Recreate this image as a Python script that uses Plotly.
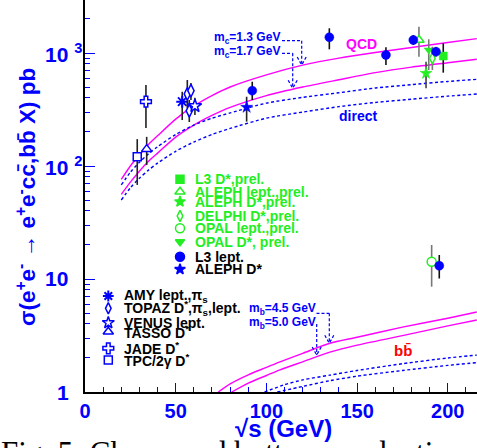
import math
import plotly.graph_objects as go

# ---------------- data ----------------
# charm theory curves (sqrt(s) in GeV, sigma in pb)
S_C = [20, 25, 30, 35, 40, 50, 60, 70, 80, 100, 120, 140, 160, 180, 200, 216]
QCD_C13 = [76, 100, 125, 155, 185, 260, 340, 420, 500, 640, 780, 900, 1010, 1120, 1240, 1340]
QCD_C17 = [56, 72, 90, 110, 130, 180, 230, 280, 330, 420, 500, 580, 670, 750, 820, 880]
DIR_C13 = [68, 88, 108, 128, 148, 190, 230, 265, 295, 360, 405, 445, 490, 525, 560, 585]
DIR_C17 = [50, 64, 78, 92, 106, 135, 163, 190, 215, 265, 300, 335, 365, 390, 415, 433]

# bottom theory curves
S_B45_QCD = [73.5, 80, 90, 100, 107.5, 120, 135, 150, 175, 200, 216]
QCD_B45 = [1.0, 1.18, 1.42, 1.65, 1.85, 2.2, 2.7, 3.05, 3.75, 4.5, 5.1]
S_B50_QCD = [80.9, 90, 100, 107.5, 120, 135, 150, 175, 200, 216]
QCD_B50 = [1.0, 1.2, 1.4, 1.57, 1.85, 2.25, 2.6, 3.15, 3.85, 4.34]
S_B45_DIR = [99, 110, 120, 135, 150, 175, 200, 216]
DIR_B45 = [1.0, 1.16, 1.28, 1.41, 1.55, 1.78, 2.0, 2.12]
S_B50_DIR = [106, 120, 135, 150, 175, 200, 216]
DIR_B50 = [1.0, 1.12, 1.26, 1.38, 1.55, 1.72, 1.82]

# measurements: sqrt(s), value, upper end, lower end of error bar
L3_LEPT_S = [92.2, 134.7, 165.9, 181, 193.5, 195.3]
L3_LEPT_Y = [464, 1377, 960, 1303, 1027, 13.1]
L3_LEPT_HI = [557, 1655, 1122, 1443, 1130, 16.3]
L3_LEPT_LO = [384, 1078, 783, 1177, 930, 10.1]

ALEPH_DST_S = [89.1]
ALEPH_DST_Y = [331]
ALEPH_DST_HI = [410]
ALEPH_DST_LO = [247]

AMY_S = [53.6]
AMY_Y = [371]
AMY_HI = [454]
AMY_LO = [255]

TOPAZ_S = [56.4, 58.4, 57.5]
TOPAZ_Y = [434, 464, 308]
TOPAZ_HI = [577, 543, 384]
TOPAZ_LO = [326, 384, 245]

VENUS_S = [60.6]
VENUS_Y = [340]
VENUS_HI = [402]
VENUS_LO = [283]

TASSO_S = [34.0]
TASSO_Y = [141]
TASSO_HI = [181]
TASSO_LO = [102]

JADE_S = [33.6]
JADE_Y = [371]
JADE_HI = [521]
JADE_LO = [217]

TPC_S = [28.8]
TPC_Y = [121]
TPC_HI = [173]
TPC_LO = [68]

L3_DST_P_S = [197.5]
L3_DST_P_Y = [940]
L3_DST_P_HI = [1219]
L3_DST_P_LO = [670]

ALEPH_LEPT_P_S = [184.1]
ALEPH_LEPT_P_Y = [1303]
ALEPH_LEPT_P_HI = [1709]
ALEPH_LEPT_P_LO = [927]

ALEPH_DST_P_S = [188.0]
ALEPH_DST_P_Y = [661]
ALEPH_DST_P_HI = [838]
ALEPH_DST_P_LO = [487]

DELPHI_DST_P_S = [191.5]
DELPHI_DST_P_Y = [898]
DELPHI_DST_P_HI = [1137]
DELPHI_DST_P_LO = [707]

OPAL_LEPT_P_S = [191.1]
OPAL_LEPT_P_Y = [14.2]
OPAL_LEPT_P_HI = [20.0]
OPAL_LEPT_P_LO = [8.55]

OPAL_DST_P_S = [189.5]
OPAL_DST_P_Y = [1063]
OPAL_DST_P_HI = [1322]
OPAL_DST_P_LO = [707]

X_TICKS = [0, 50, 100, 150, 200]
Y_TICKS = [1, 10, 100, 1000]
Y_TICK_TEXT = ["1", "10", "10 <sup>2</sup>", "10 <sup>3</sup>"]

# ---------------- styling ----------------
MAG = "#ff00ff"
BLUE = "#0000ff"
GREEN = "#22ee22"
GREY = "#777777"
FONT = "Liberation Sans, Arial, sans-serif"

W, H = 477, 448
ML, MB = 85, 56
PW, PH = W - ML, H - MB
X_MAX = 216.1
Y_LOGMAX = 3.469


def fx(p):  # pixel x -> paper
    return (p - ML) / PW


def fy(p):  # pixel y -> paper
    return (PH - p) / PH


fig = go.Figure()


def curve(s, v, color, dash):
    fig.add_trace(go.Scatter(
        x=s, y=v, mode="lines",
        line=dict(color=color, width=1.4, dash=dash, shape="spline", smoothing=0.7),
        showlegend=False, hoverinfo="skip"))


DASH = "3px,2.5px"
curve(S_C, QCD_C13, MAG, "solid")
curve(S_C, QCD_C17, MAG, "solid")
curve(S_C, DIR_C13, BLUE, DASH)
curve(S_C, DIR_C17, BLUE, DASH)
curve(S_B45_QCD, QCD_B45, MAG, "solid")
curve(S_B50_QCD, QCD_B50, MAG, "solid")
curve(S_B45_DIR, DIR_B45, BLUE, DASH)
curve(S_B50_DIR, DIR_B50, BLUE, DASH)


def pts(s, y, hi, lo, symbol, fill, line, size, errcolor, lw=1.5):
    fig.add_trace(go.Scatter(
        x=s, y=y, mode="markers",
        marker=dict(symbol=symbol, color=fill, size=size, line=dict(color=line, width=lw)),
        error_y=dict(type="data", symmetric=False,
                     array=[h - v for h, v in zip(hi, y)],
                     arrayminus=[v - l for v, l in zip(y, lo)],
                     color=errcolor, thickness=1.6, width=0),
        showlegend=False, hoverinfo="skip"))


pts(TPC_S, TPC_Y, TPC_HI, TPC_LO, "square", "white", BLUE, 8, "#222222")
pts(TASSO_S, TASSO_Y, TASSO_HI, TASSO_LO, "triangle-up", "white", BLUE, 9, "#222222")
pts(JADE_S, JADE_Y, JADE_HI, JADE_LO, "cross", "white", BLUE, 9, "#222222")
pts(AMY_S, AMY_Y, AMY_HI, AMY_LO, "asterisk-open", BLUE, BLUE, 10, "#222222", 2)
pts(TOPAZ_S, TOPAZ_Y, TOPAZ_HI, TOPAZ_LO, "diamond-tall", "white", BLUE, 9, "#222222")
pts(VENUS_S, VENUS_Y, VENUS_HI, VENUS_LO, "star", "white", BLUE, 10, "#222222")
pts(ALEPH_DST_S, ALEPH_DST_Y, ALEPH_DST_HI, ALEPH_DST_LO, "star", BLUE, BLUE, 9, "#222222", 0.5)
pts(ALEPH_LEPT_P_S, ALEPH_LEPT_P_Y, ALEPH_LEPT_P_HI, ALEPH_LEPT_P_LO, "triangle-up", "white", GREEN, 9, GREY)
pts(OPAL_DST_P_S, OPAL_DST_P_Y, OPAL_DST_P_HI, OPAL_DST_P_LO, "triangle-down", GREEN, GREEN, 8, GREY, 0.5)
pts(ALEPH_DST_P_S, ALEPH_DST_P_Y, ALEPH_DST_P_HI, ALEPH_DST_P_LO, "star", GREEN, GREEN, 9, "#444444", 0.5)
pts(DELPHI_DST_P_S, DELPHI_DST_P_Y, DELPHI_DST_P_HI, DELPHI_DST_P_LO, "diamond-tall", "white", GREEN, 8, GREY)
pts(OPAL_LEPT_P_S, OPAL_LEPT_P_Y, OPAL_LEPT_P_HI, OPAL_LEPT_P_LO, "circle", "white", GREEN, 9, GREY)
pts(L3_DST_P_S, L3_DST_P_Y, L3_DST_P_HI, L3_DST_P_LO, "square", GREEN, GREEN, 8, "#111111", 0.5)
pts(L3_LEPT_S, L3_LEPT_Y, L3_LEPT_HI, L3_LEPT_LO, "circle", BLUE, BLUE, 9, "#111111", 0.5)

# ---------------- legend keys (layout, drawn on hidden overlay axes) ----------------
LEG1_X, LEG1_TX = 180, 193
LEG1_ROWS = [179.3, 191.7, 201.7, 216, 228.3, 241.7, 256.7, 269.3]
LEG1 = [
    ("square", GREEN, GREEN, 8, GREEN, "L3 D*,prel."),
    ("triangle-up", "white", GREEN, 9, GREEN, "ALEPH lept.,prel."),
    ("star", GREEN, GREEN, 8, GREEN, "ALEPH D*,prel."),
    ("diamond-tall", "white", GREEN, 8, GREEN, "DELPHI D*,prel."),
    ("circle", "white", GREEN, 9, GREEN, "OPAL lept.,prel."),
    ("triangle-down", GREEN, GREEN, 8, GREEN, "OPAL D*, prel."),
    ("circle", BLUE, BLUE, 9, "black", "L3 lept."),
    ("star", BLUE, BLUE, 8, "black", "ALEPH D*"),
]
LEG2_X, LEG2_TX = 108.3, 121.7
LEG2_ROWS = [296, 308.3, 322.7, 331.7, 348.3, 360]
LEG2 = [
    ("asterisk-open", BLUE, BLUE, 9, "AMY lept.,π<sub>s</sub>"),
    ("diamond-tall", "white", BLUE, 8, "TOPAZ D<sup>*</sup>,π<sub>s</sub>,lept."),
    ("star", "white", BLUE, 9, "VENUS lept."),
    ("triangle-up", "white", BLUE, 9, "TASSO D<sup>*</sup>"),
    ("cross", "white", BLUE, 9, "JADE D<sup>*</sup>"),
    ("square", "white", BLUE, 8, "TPC/2γ D<sup>*</sup>"),
]

annotations = []
for (sym, fill, line, size, tcol, txt), ry in zip(LEG1, LEG1_ROWS):
    fig.add_trace(go.Scatter(x=[fx(LEG1_X)], y=[fy(ry)], xaxis="x2", yaxis="y2", mode="markers",
                             marker=dict(symbol=sym, color=fill, size=size, line=dict(color=line, width=1.5)),
                             showlegend=False, hoverinfo="skip"))
    annotations.append(dict(x=fx(LEG1_TX), y=fy(ry), xref="paper", yref="paper", xanchor="left",
                            yanchor="middle", showarrow=False, text="<b>" + txt + "</b>",
                            font=dict(family=FONT, size=14, color=tcol)))
for (sym, fill, line, size, txt), ry in zip(LEG2, LEG2_ROWS):
    fig.add_trace(go.Scatter(x=[fx(LEG2_X)], y=[fy(ry)], xaxis="x2", yaxis="y2", mode="markers",
                             marker=dict(symbol=sym, color=fill, size=size,
                                         line=dict(color=line, width=1.5 if sym != "asterisk-open" else 2)),
                             showlegend=False, hoverinfo="skip"))
    annotations.append(dict(x=fx(LEG2_TX), y=fy(ry), xref="paper", yref="paper", xanchor="left",
                            yanchor="middle", showarrow=False, text="<b>" + txt + "</b>",
                            font=dict(family=FONT, size=14, color="black")))


def label(xp, yp, txt, color, size, anchor="left", angle=0, family=FONT):
    annotations.append(dict(x=fx(xp), y=fy(yp), xref="paper", yref="paper", xanchor=anchor,
                            yanchor="middle", showarrow=False, text=txt, textangle=angle,
                            font=dict(family=family, size=size, color=color)))


label(212, 38, "<b>m<sub>c</sub>=1.3 GeV</b>", BLUE, 12)
label(212, 51.5, "<b>m<sub>c</sub>=1.7 GeV</b>", BLUE, 12)
label(247, 309, "<b>m<sub>b</sub>=4.5 GeV</b>", BLUE, 12)
label(247, 322.7, "<b>m<sub>b</sub>=5.0 GeV</b>", BLUE, 12)
label(361.7, 44.3, "<b>QCD</b>", MAG, 14, "center")
label(358.3, 116, "<b>direct</b>", BLUE, 14, "center")
label(402.7, 350, "<b>bb\u0304</b>", "#ff0000", 15, "center")

# y tick labels
for v, t in zip(Y_TICKS, Y_TICK_TEXT):
    ypix = PH - math.log10(v) / Y_LOGMAX * PH
    xl = 55 if v == 1 else 43
    label(xl, ypix, "<b>" + t + "</b>", BLUE, 21)

# axis titles
label(26, 197, "<b>σ(e<sup>+</sup>e<sup>-</sup> → e<sup>+</sup>e<sup>-</sup>cc\u0304,bb\u0304 X) pb</b>",
      BLUE, 22.5, "center", -90)
label(283, 428, "<b>√s (GeV)</b>", BLUE, 24, "center")
# caption (cut by bottom edge)
label(-1, 452.5, "Fig. 5: Charm and bottom production", "black", 31, "left",
      family="Liberation Serif, Times New Roman, serif")

# dashed connectors with open arrow heads
shapes = []


def seg(x0, y0, x1, y1):
    shapes.append(dict(type="line", xref="paper", yref="paper", x0=fx(x0), y0=fy(y0), x1=fx(x1), y1=fy(y1),
                       line=dict(color=BLUE, width=1.2, dash="3px,2px")))


def connector(pts_):
    for (a, b), (c, d) in zip(pts_[:-1], pts_[1:]):
        seg(a, b, c, d)
    tx, ty = pts_[-1]
    seg(tx - 4.5, ty - 8, tx, ty)
    seg(tx + 4.5, ty - 8, tx, ty)


connector([(282, 40.7), (301.7, 40.7), (301.7, 65)])
connector([(282, 53.3), (292.7, 53.3), (292.7, 88.3)])
connector([(316.5, 313.3), (329.3, 313.3), (329.3, 343.3)])
connector([(316.7, 324), (316.7, 355)])

fig.update_layout(
    width=W, height=H,
    margin=dict(l=ML, r=0, t=0, b=MB),
    plot_bgcolor="white", paper_bgcolor="white",
    showlegend=False,
    annotations=annotations, shapes=shapes,
    xaxis=dict(range=[0, X_MAX], showline=True, linecolor="black", linewidth=1.5,
               ticks="inside", ticklen=9, tickwidth=1.2, tickcolor=BLUE,
               tickvals=X_TICKS, ticktext=["<b>%d</b>" % t for t in X_TICKS],
               tickfont=dict(family=FONT, size=20, color=BLUE),
               minor=dict(ticks="inside", ticklen=5, dtick=10, tick0=0, tickcolor=BLUE, tickwidth=1.2),
               showgrid=False, zeroline=False),
    yaxis=dict(type="log", range=[0, Y_LOGMAX], showline=True, linecolor="black", linewidth=1.5,
               ticks="inside", ticklen=10, tickwidth=1.2, tickcolor=BLUE,
               tickvals=Y_TICKS, showticklabels=False,
               minor=dict(ticks="inside", ticklen=5, tickcolor=BLUE, tickwidth=1.2,
                          tickvals=[m * 10 ** e for e in range(3) for m in range(2, 10)] + [2000]),
               showgrid=False, zeroline=False),
    xaxis2=dict(range=[0, 1], overlaying="x", visible=False),
    yaxis2=dict(range=[0, 1], overlaying="y", visible=False),
)

fig.write_html("out.html", config={"displayModeBar": False},
               post_script="document.body.style.margin='0';document.body.style.overflow='hidden';")
